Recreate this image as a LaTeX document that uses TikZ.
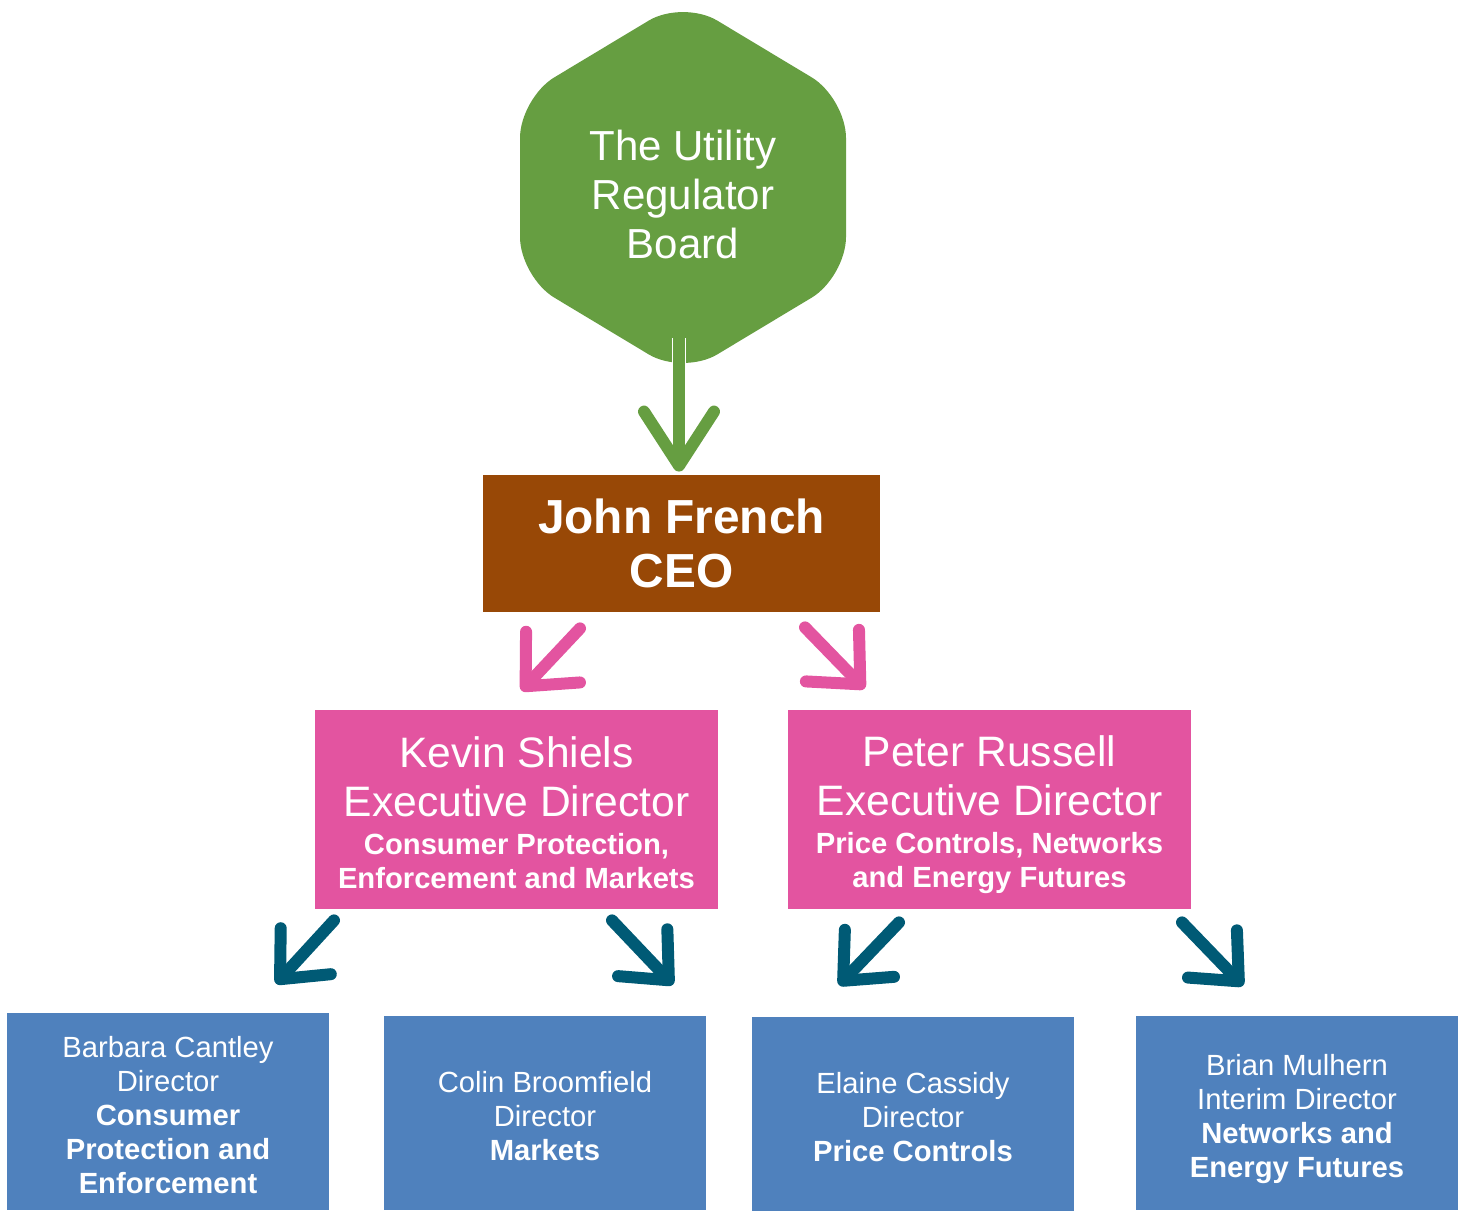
\documentclass[tikz,border=0pt]{standalone}
\usepackage{fontspec}
\setmainfont{Liberation Sans}
\usetikzlibrary{arrows.meta,calc}
\definecolor{boardgreen}{RGB}{102,158,65}
\definecolor{ceobrown}{RGB}{152,72,6}
\definecolor{execpink}{RGB}{227,84,160}
\definecolor{dirteal}{RGB}{0,90,117}
\definecolor{dirblue}{RGB}{79,129,189}
\newcommand{\bigtxt}{\fontsize{21.3}{24.5}\selectfont}
\newcommand{\smalltxt}{\fontsize{14.6}{17}\selectfont}
\newcommand{\smallbold}{\fontsize{14.6}{17}\selectfont\bfseries}

\begin{document}
\begin{tikzpicture}[x=0.5pt,y=-0.5pt,
	box/.style={text=white, align=center, inner sep=0pt},
	execbox/.style={box, fill=execpink, minimum width=201.5pt, minimum height=99.5pt, font=\bigtxt},
	dirbox/.style={box, fill=dirblue, minimum width=161pt, minimum height=97pt, font=\smalltxt},
	pinkbarb/.style={line width=6pt, line cap=round, draw=execpink, -{Straight Barb[round, length=20pt, width=37pt]}},
	tealbarb/.style={line width=6pt, line cap=round, draw=dirteal, -{Straight Barb[round, length=19pt, width=34pt]}}
]
	\useasboundingbox (0,0) rectangle (1460,1210);
	%\draw[help lines] (0,0) grid[step=100] (1460,1210);
	\fill[boardgreen, rounded corners=20pt] (683,0) -- (846,98) -- (846,277) -- (683,375) -- (520,277) -- (520,98) -- cycle;
	\node[box, font=\fontsize{21}{24.5}\selectfont] (board) at (683,194) {The Utility\\Regulator\\Board};
	\coordinate (hexbot) at (679,338);
	\node[box, fill=ceobrown, minimum width=198.5pt, minimum height=68.5pt, font=\fontsize{23.9}{27}\selectfont\bfseries] (ceo) at (681.5,543.5) {John French\\CEO};
	\node[execbox] (kevin) at (516.5,809.5) {\rule{0pt}{18.5pt}Kevin Shiels\\Executive Director\\[-5.5pt]\smallbold Consumer Protection,\\[-7.5pt]\smallbold Enforcement and Markets};
	\node[execbox] (peter) at (989.5,809.5) {\rule{0pt}{20.5pt}Peter Russell\\Executive Director\\[-5.5pt]\smallbold Price Controls, Networks\\[-7.5pt]\smallbold and Energy Futures};
	\node[dirbox, minimum height=98.5pt] (barbara) at (168,1111.5) {\rule{0pt}{14pt}Barbara Cantley\\Director\\\bfseries Consumer\\\bfseries Protection and\\\bfseries Enforcement};
	\node[dirbox] (colin) at (545,1113) {\rule{0pt}{14pt}Colin Broomfield\\Director\\\bfseries Markets};
	\node[dirbox] (elaine) at (913,1113.5) {\rule{0pt}{14pt}Elaine Cassidy\\Director\\\bfseries Price Controls};
	\node[dirbox] (brian) at (1297,1113) {\rule{0pt}{17pt}Brian Mulhern\\Interim Director\\\bfseries Networks and\\\bfseries Energy Futures};
	\draw[line width=6pt, line cap=round, boardgreen, preaction={draw=white, line width=7.4pt, -}, -{Straight Barb[round, length=27pt, width=35pt]}] (hexbot) -- ($(ceo.north)+(-2.5,-3)$);
	\draw[pinkbarb] ($(ceo.south)+(-101.5,16)$) -- ($(kevin.north)+(5,-19)$);
	\draw[pinkbarb] ($(ceo.south)+(123.5,15)$) -- ($(peter.north)+(-125,-21)$);
	\draw[tealbarb] ($(kevin.south)+(-182.5,11)$) -- ($(barbara.north)+(108,-29)$);
	\draw[tealbarb] ($(kevin.south)+(95.5,11)$) -- ($(colin.north)+(128,-31)$);
	\draw[tealbarb] ($(peter.south)+(-90.5,13)$) -- ($(elaine.north)+(-74,-31)$);
	\draw[tealbarb] ($(peter.south)+(192.5,13)$) -- ($(brian.north)+(-54,-30)$);
\end{tikzpicture}
\end{document}
